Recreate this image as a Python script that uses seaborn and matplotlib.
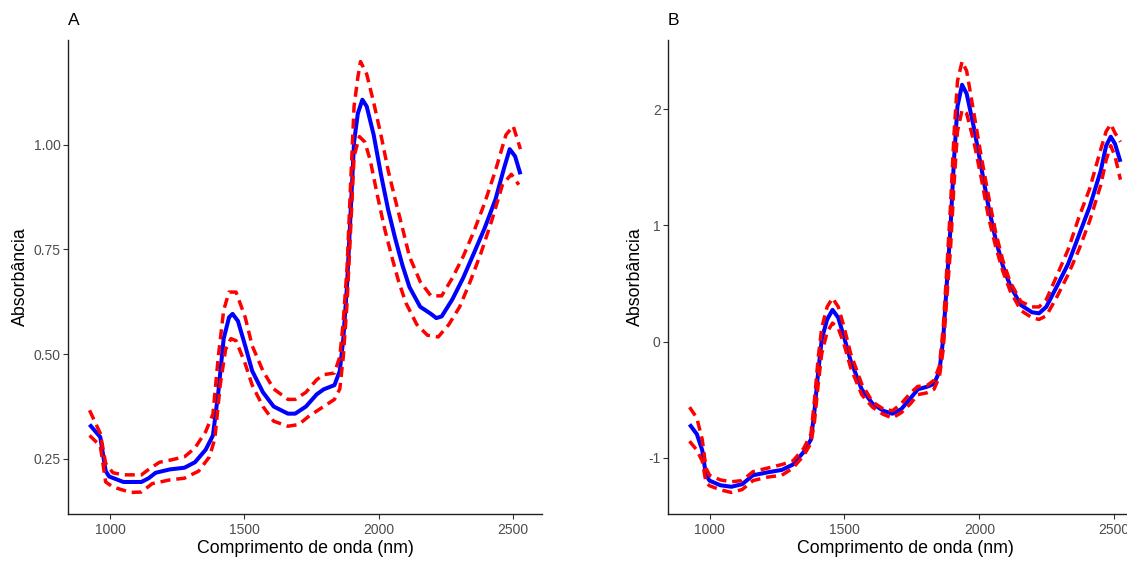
import matplotlib
matplotlib.use("Agg")
import matplotlib.pyplot as plt
import seaborn as sns
import numpy as np

# ---------------- Panel A (raw absorbance) ----------------
wl_a_mean = [924, 964, 984, 997, 1050, 1117, 1144, 1170, 1223, 1277, 1316, 1356, 1383, 1403, 1423,
             1443, 1456, 1476, 1503, 1529, 1569, 1609, 1662, 1689, 1729, 1769, 1795, 1835, 1855,
             1868, 1882, 1895, 1908, 1922, 1939, 1955, 1981, 2008, 2035, 2061, 2088, 2114, 2154,
             2194, 2214, 2234, 2274, 2314, 2354, 2394, 2434, 2467, 2487, 2507, 2527]
a_mean = [0.332, 0.302, 0.221, 0.208, 0.195, 0.195, 0.204, 0.217, 0.225, 0.229, 0.242, 0.272, 0.306,
          0.409, 0.537, 0.588, 0.596, 0.579, 0.520, 0.460, 0.409, 0.375, 0.358, 0.358, 0.375, 0.404,
          0.416, 0.426, 0.460, 0.537, 0.665, 0.835, 1.006, 1.074, 1.107, 1.091, 1.023, 0.929, 0.844,
          0.776, 0.712, 0.660, 0.613, 0.596, 0.586, 0.590, 0.631, 0.682, 0.741, 0.801, 0.869, 0.946,
          0.989, 0.972, 0.929]

wl_a_up = [924, 964, 984, 1011, 1050, 1117, 1144, 1184, 1223, 1277, 1316, 1356, 1383, 1403, 1423,
           1443, 1469, 1503, 1529, 1569, 1609, 1662, 1689, 1729, 1769, 1795, 1835, 1855, 1868,
           1882, 1895, 1908, 1922, 1932, 1955, 1981, 2008, 2035, 2061, 2088, 2114, 2154, 2194,
           2234, 2274, 2314, 2354, 2394, 2434, 2473, 2500, 2527]
a_up = [0.366, 0.311, 0.239, 0.217, 0.212, 0.212, 0.225, 0.242, 0.247, 0.255, 0.276, 0.315, 0.357,
        0.494, 0.605, 0.648, 0.648, 0.588, 0.520, 0.460, 0.417, 0.392, 0.392, 0.409, 0.439, 0.451,
        0.455, 0.494, 0.579, 0.707, 0.904, 1.091, 1.160, 1.198, 1.168, 1.100, 1.023, 0.938, 0.869,
        0.801, 0.733, 0.673, 0.639, 0.639, 0.682, 0.733, 0.793, 0.861, 0.938, 1.023, 1.044, 0.989]

wl_a_low = [924, 964, 984, 1011, 1077, 1117, 1157, 1223, 1277, 1330, 1370, 1390, 1410, 1430, 1450,
            1469, 1503, 1529, 1569, 1609, 1662, 1702, 1742, 1795, 1835, 1855, 1868, 1882, 1895,
            1908, 1928, 1948, 1968, 1995, 2021, 2048, 2074, 2101, 2141, 2181, 2221, 2261, 2301,
            2340, 2380, 2420, 2460, 2493, 2521]
a_low = [0.306, 0.281, 0.195, 0.183, 0.170, 0.171, 0.191, 0.200, 0.204, 0.221, 0.255, 0.298, 0.426,
         0.511, 0.537, 0.532, 0.477, 0.426, 0.375, 0.340, 0.328, 0.332, 0.353, 0.375, 0.392, 0.417,
         0.494, 0.622, 0.793, 0.972, 1.019, 1.006, 0.963, 0.878, 0.801, 0.733, 0.673, 0.622, 0.571,
         0.545, 0.541, 0.571, 0.613, 0.673, 0.741, 0.818, 0.904, 0.929, 0.904]

# ---------------- Panel B (SNV) ----------------
wl_b = [926, 953, 973, 987, 1000, 1040, 1081, 1121, 1161, 1215, 1268, 1309, 1349, 1376, 1389, 1403,
        1416, 1436, 1456, 1477, 1497, 1523, 1564, 1604, 1644, 1678, 1711, 1745, 1772, 1805, 1832,
        1852, 1866, 1879, 1893, 1906, 1919, 1936, 1953, 1980, 2007, 2034, 2060, 2087, 2114, 2154,
        2195, 2221, 2248, 2289, 2329, 2369, 2409, 2450, 2470, 2487, 2503, 2523]
b_mean = [-0.712, -0.796, -0.934, -1.150, -1.196, -1.236, -1.249, -1.227, -1.150, -1.125, -1.104,
          -1.058, -0.950, -0.842, -0.595, -0.256, 0.022, 0.191, 0.274, 0.207, 0.052, -0.163, -0.410,
          -0.533, -0.595, -0.620, -0.580, -0.487, -0.410, -0.389, -0.364, -0.256, 0.022, 0.484,
          0.977, 1.563, 2.026, 2.211, 2.134, 1.841, 1.502, 1.162, 0.885, 0.654, 0.484, 0.315, 0.253,
          0.244, 0.299, 0.484, 0.669, 0.916, 1.162, 1.471, 1.687, 1.764, 1.702, 1.548]
b_up = [-0.564, -0.657, -0.842, -1.088, -1.150, -1.190, -1.206, -1.196, -1.119, -1.088, -1.058,
        -1.027, -0.919, -0.796, -0.503, -0.133, 0.120, 0.300, 0.375, 0.300, 0.140, -0.102, -0.364,
        -0.518, -0.580, -0.595, -0.533, -0.441, -0.385, -0.379, -0.333, -0.210, 0.114, 0.607,
        1.162, 1.779, 2.242, 2.411, 2.330, 1.964, 1.594, 1.255, 0.947, 0.700, 0.515, 0.345, 0.299,
        0.299, 0.361, 0.577, 0.792, 1.070, 1.317, 1.656, 1.810, 1.872, 1.795, 1.720]
b_low = [-0.857, -0.934, -1.027, -1.212, -1.240, -1.275, -1.298, -1.273, -1.196, -1.166, -1.150,
         -1.088, -0.981, -0.873, -0.688, -0.364, -0.102, 0.083, 0.160, 0.114, -0.009, -0.225, -0.456,
         -0.564, -0.626, -0.657, -0.611, -0.533, -0.456, -0.441, -0.410, -0.302, -0.071, 0.361,
         0.792, 1.348, 1.810, 1.995, 1.964, 1.718, 1.409, 1.070, 0.823, 0.607, 0.438, 0.268, 0.207,
         0.191, 0.222, 0.392, 0.577, 0.792, 1.039, 1.348, 1.563, 1.687, 1.594, 1.394]

x_ticks = [1000, 1500, 2000, 2500]
a_yticks = [0.25, 0.50, 0.75, 1.00]
a_yticklabels = ["0.25", "0.50", "0.75", "1.00"]
b_yticks = [-1, 0, 1, 2]
b_yticklabels = ["-1", "0", "1", "2"]

sns.set_theme(style="ticks")
plt.rcParams['font.family'] = ['Liberation Sans', 'DejaVu Sans']
plt.rcParams['axes.unicode_minus'] = False

W, H = 1127, 561
fig = plt.figure(figsize=(W / 100, H / 100), dpi=100)
ax_w = 474 / W
ax_b = 1 - 514 / H
ax_h = (514 - 40) / H
axA = fig.add_axes([68 / W, ax_b, ax_w, ax_h])
axB = fig.add_axes([668 / W, ax_b, ax_w, ax_h])


def expand(lo, hi, f=0.05):
    r = hi - lo
    return lo - f * r, hi + f * r


def draw(ax, wl_m, m, wl_u, u, wl_l, l, yticks, ylabels, title):
    sns.lineplot(x=wl_m, y=m, ax=ax, color="#0000FF", linewidth=2.9, sort=False,
                 estimator=None, zorder=2, solid_joinstyle="round", solid_capstyle="butt")
    for wx, wy in ((wl_u, u), (wl_l, l)):
        sns.lineplot(x=wx, y=wy, ax=ax, color="#FF0000", linewidth=2.5, sort=False,
                     estimator=None, linestyle=(0, (2.9, 1.7)), zorder=3,
                     dash_joinstyle="round", dash_capstyle="butt")
    allx = list(wl_m) + list(wl_u) + list(wl_l)
    ally = list(m) + list(u) + list(l)
    ax.set_xlim(*expand(min(allx), max(allx)))
    ax.set_ylim(*expand(min(ally), max(ally)))
    ax.set_xticks(x_ticks)
    ax.set_xticklabels([str(t) for t in x_ticks])
    ax.set_yticks(yticks)
    ax.set_yticklabels(ylabels)
    for s in ("top", "right"):
        ax.spines[s].set_visible(False)
    for s in ("left", "bottom"):
        ax.spines[s].set_color("#222222")
        ax.spines[s].set_linewidth(1.0)
    ax.tick_params(axis="both", length=3.5, width=0.8, color="#333333",
                   labelcolor="#4D4D4D", labelsize=10)
    ax.tick_params(axis="x", pad=3.2)
    ax.tick_params(axis="y", pad=1.8)
    ax.set_xlabel("Comprimento de onda (nm)", fontsize=12.8, color="black", labelpad=2)
    ax.set_ylabel("Absorbância", fontsize=12.8, color="black", labelpad=3)
    ax.set_title(title, loc="left", fontsize=12.5, color="black", pad=11)
    ax.grid(False)
    ax.set_facecolor("white")


draw(axA, wl_a_mean, a_mean, wl_a_up, a_up, wl_a_low, a_low, a_yticks, a_yticklabels, "A")
draw(axB, wl_b, b_mean, wl_b, b_up, wl_b, b_low, b_yticks, b_yticklabels, "B")

fig.savefig("out.png", dpi=100, facecolor="white")
